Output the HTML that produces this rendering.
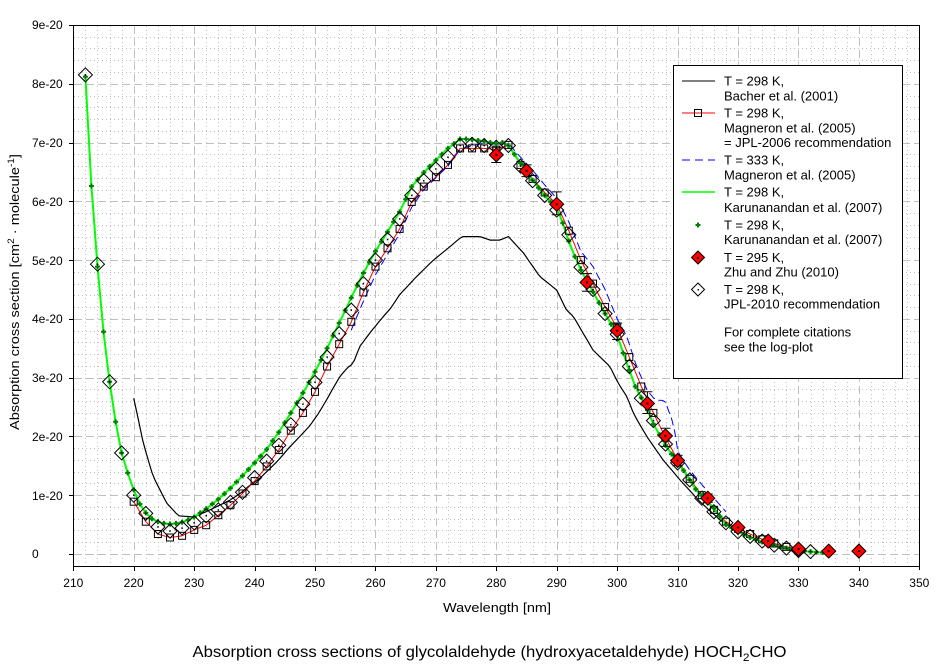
<!DOCTYPE html>
<html><head><meta charset="utf-8">
<style>
html,body{margin:0;padding:0;background:#fff;}
svg{display:block;font-family:"Liberation Sans",Arial,sans-serif;}
</style></head>
<body>
<svg id="plot" width="944" height="671" viewBox="0 0 944 671" xmlns="http://www.w3.org/2000/svg">
<rect x="0" y="0" width="944" height="671" fill="#fff"/>
<g id="grid"></g>
<g id="frame" fill="none" stroke="#000" stroke-width="1">
  <line x1="73.5" y1="25" x2="73.5" y2="566.5"/>
  <line x1="73" y1="566.5" x2="919.5" y2="566.5"/>
  <line x1="73" y1="25.5" x2="919.5" y2="25.5"/>
  <line x1="919.5" y1="25" x2="919.5" y2="570"/>
</g>
<g id="ticks" stroke="#000" stroke-width="1"></g>
<g id="data"></g>
<g id="ticklabels" font-size="12" fill="#000">
  <text x="32" y="29">9e-20</text>
  <text x="32" y="88">8e-20</text>
  <text x="32" y="147">7e-20</text>
  <text x="32" y="206">6e-20</text>
  <text x="32" y="265">5e-20</text>
  <text x="32" y="323">4e-20</text>
  <text x="32" y="382">3e-20</text>
  <text x="32" y="441">2e-20</text>
  <text x="32" y="500">1e-20</text>
  <text x="32" y="558">0</text>
  <g text-anchor="middle">
  <text x="73.3" y="587">210</text>
  <text x="133.7" y="587">220</text>
  <text x="194.2" y="587">230</text>
  <text x="254.6" y="587">240</text>
  <text x="315.0" y="587">250</text>
  <text x="375.5" y="587">260</text>
  <text x="435.9" y="587">270</text>
  <text x="496.3" y="587">280</text>
  <text x="556.7" y="587">290</text>
  <text x="617.2" y="587">300</text>
  <text x="677.6" y="587">310</text>
  <text x="738.0" y="587">320</text>
  <text x="798.5" y="587">330</text>
  <text x="858.9" y="587">340</text>
  <text x="919.3" y="587">350</text>
  </g>
</g>
<text x="497" y="612" font-size="13" text-anchor="middle" textLength="108" lengthAdjust="spacingAndGlyphs">Wavelength [nm]</text>
<text transform="translate(19,292) rotate(-90)" font-size="13" text-anchor="middle" textLength="276" lengthAdjust="spacingAndGlyphs">Absorption cross section [cm<tspan font-size="9" dy="-5">2</tspan><tspan dy="5"> · molecule</tspan><tspan font-size="9" dy="-5">-1</tspan><tspan dy="5">]</tspan></text>
<text x="489.5" y="657" font-size="15.5" text-anchor="middle" textLength="594" lengthAdjust="spacingAndGlyphs">Absorption cross sections of glycolaldehyde (hydroxyacetaldehyde) HOCH<tspan font-size="11" dy="4">2</tspan><tspan dy="-4">CHO</tspan></text>

<g id="legend">
  <rect x="673.5" y="65.5" width="229" height="313" fill="#fff" stroke="#000" stroke-width="1"/>
  <line x1="682" y1="81" x2="715" y2="81" stroke="#000" stroke-width="1"/>
  <line x1="682" y1="113" x2="715" y2="113" stroke="#f00" stroke-width="1"/>
  <rect x="694.5" y="109.5" width="7" height="7" fill="none" stroke="#000" stroke-width="1"/>
  <line x1="682" y1="160" x2="715" y2="160" stroke="#00f" stroke-width="1" stroke-dasharray="8,5"/>
  <line x1="682" y1="192" x2="715" y2="192" stroke="#0f0" stroke-width="1.5"/>
  <path d="M695.5 225h5M698 222.5v5" stroke="#008000" stroke-width="2"/>
  <path d="M698 251l6.5 6.5l-6.5 6.5l-6.5 -6.5z" fill="#f00" stroke="#000" stroke-width="1"/>
  <rect x="697" y="257" width="2" height="2" fill="#000"/>
  <path d="M698 283l6.5 6.5l-6.5 6.5l-6.5 -6.5z" fill="#fff" stroke="#000" stroke-width="1"/>
  <rect x="697.5" y="289" width="1.5" height="1.5" fill="#000"/>
  <g font-size="13" fill="#000">
    <text x="724" y="85.5">T = 298 K,</text>
    <text x="724" y="100.5">Bacher et al. (2001)</text>
    <text x="724" y="117.5">T = 298 K,</text>
    <text x="724" y="132.5">Magneron et al. (2005)</text>
    <text x="724" y="147">= JPL-2006 recommendation</text>
    <text x="724" y="164.5">T = 333 K,</text>
    <text x="724" y="179.5">Magneron et al. (2005)</text>
    <text x="724" y="196.5">T = 298 K,</text>
    <text x="724" y="212">Karunanandan et al. (2007)</text>
    <text x="724" y="229.5">T = 298 K,</text>
    <text x="724" y="244">Karunanandan et al. (2007)</text>
    <text x="724" y="262">T = 295 K,</text>
    <text x="724" y="276.5">Zhu and Zhu (2010)</text>
    <text x="724" y="294">T = 298 K,</text>
    <text x="724" y="308.5">JPL-2010 recommendation</text>
    <text x="724" y="336.5">For complete citations</text>
    <text x="724" y="351.5">see the log-plot</text>
  </g>
</g>
</svg>
<script>
(function(){
const NS='http://www.w3.org/2000/svg';
const X=l=>73.3+(l-210)*6.043;
const Y=v=>554-v*58.78;
function el(tag,attrs,parent){const e=document.createElementNS(NS,tag);for(const k in attrs)e.setAttribute(k,attrs[k]);parent.appendChild(e);return e;}
const grid=document.getElementById('grid');
const ticks=document.getElementById('ticks');
const data=document.getElementById('data');
// minor vertical grid (every 2 nm)
for(let l=212;l<350;l+=2){
  const x=Math.round(X(l))+0.5;
  if((l-210)%10===0) continue;
  el('line',{x1:x,y1:26,x2:x,y2:566,stroke:'#c0c0c0','stroke-width':1,'stroke-dasharray':'1,3'},grid);
}
// minor horizontal grid (every 0.2e-20)
for(let i=-0;i<45;i++){
  if(i%5===0) continue;
  const y=Math.round(Y(i*0.2))+0.5;
  el('line',{x1:74,y1:y,x2:919,y2:y,stroke:'#c0c0c0','stroke-width':1,'stroke-dasharray':'1,3'},grid);
}
// major vertical
for(let l=220;l<350;l+=10){
  const x=Math.round(X(l))+0.5;
  el('line',{x1:x,y1:26,x2:x,y2:566,stroke:'#c0c0c0','stroke-width':1,'stroke-dasharray':'8,4'},grid);
  el('line',{x1:x,y1:566,x2:x,y2:571},ticks);
}
el('line',{x1:73.5,y1:566,x2:73.5,y2:571},ticks);
// major horizontal
for(let v=0;v<9;v++){
  const y=Math.round(Y(v))+0.5;
  el('line',{x1:74,y1:y,x2:919,y2:y,stroke:'#c0c0c0','stroke-width':1,'stroke-dasharray':'8,4'},grid);
  el('line',{x1:69,y1:y,x2:73,y2:y},ticks);
}
el('line',{x1:69,y1:25.5,x2:73,y2:25.5},ticks);

function interp(p,l){
  if(l<=p[0][0])return p[0][1];
  for(let i=1;i<p.length;i++){
    if(l<=p[i][0]){const a=p[i-1],b=p[i];return a[1]+(b[1]-a[1])*(l-a[0])/(b[0]-a[0]);}
  }
  return p[p.length-1][1];
}
function poly(pts,attrs){
  const s=pts.map(q=>X(q[0]).toFixed(1)+','+Y(q[1]).toFixed(1)).join(' ');
  const a=Object.assign({points:s,fill:'none'},attrs);
  return el('polyline',a,data);
}
function sample(p,a,b,step){const r=[];for(let l=a;l<=b+1e-9;l+=step)r.push([l,interp(p,l)]);return r;}

const green=[[212,8.12],[213,6.26],[214,4.89],[215,3.78],[216,2.93],[217,2.25],[218,1.72],[219,1.38],[220,1.09],[221,0.85],[222,0.70],[223,0.60],[224,0.55],[225,0.52],[226,0.51],[227,0.52],[228,0.54],[229,0.58],[230,0.63],[231,0.70],[232,0.77],[234,0.93],[236,1.12],[238,1.33],[240,1.55],[242,1.78],[244,2.07],[246,2.40],[248,2.74],[250,3.10],[252,3.50],[254,3.93],[256,4.36],[258,4.78],[260,5.15],[262,5.48],[264,5.82],[266,6.25],[268,6.49],[270,6.70],[272,6.90],[274,7.06],[275,7.06],[276,7.05],[278,7.02],[280,6.98],[281,7.0],[282,6.95],[284,6.65],[286,6.36],[288,6.10],[290,5.88],[291,5.63],[292,5.32],[293,5.06],[294,4.83],[296,4.46],[298,4.09],[300,3.73],[301,3.42],[302,3.13],[303,2.85],[304,2.66],[305,2.45],[306,2.21],[308,1.85],[310,1.55],[311,1.42],[313,1.10],[316,0.78],[318,0.50],[320,0.38],[322,0.28],[325,0.17],[328,0.10],[330,0.06],[333,0.03],[335,0.02]];
const red=[[220,0.89],[222,0.55],[224,0.34],[226,0.28],[228,0.31],[230,0.41],[232,0.49],[234,0.66],[236,0.83],[238,1.03],[240,1.24],[242,1.49],[244,1.77],[246,2.10],[248,2.40],[250,2.76],[252,3.19],[254,3.57],[256,3.95],[258,4.45],[260,4.89],[262,5.20],[264,5.53],[266,5.99],[268,6.25],[270,6.41],[272,6.62],[274,6.90],[276,6.90],[278,6.90],[280,6.88],[282,6.96],[284,6.62],[286,6.38],[288,6.15],[290,5.95],[292,5.50],[294,5.00],[296,4.60],[298,4.20],[300,3.85],[302,3.35],[304,2.85],[306,2.40],[308,1.98],[310,1.60],[312,1.28],[314,1.00],[316,0.75],[318,0.55],[320,0.43],[322,0.34],[324,0.25],[326,0.18],[328,0.12],[330,0.08]];
const blue=[[256,3.81],[258,4.30],[260,4.75],[262,5.10],[264,5.45],[266,5.90],[268,6.20],[270,6.40],[272,6.60],[274,6.88],[276,6.95],[278,6.99],[280,6.97],[282,6.99],[283.4,6.82],[286,6.53],[288,6.28],[290,6.05],[291,5.85],[292,5.65],[294,5.15],[296,4.89],[298,4.50],[300,4.00],[301.6,3.70],[303.2,3.19],[305,2.78],[306.3,2.62],[307.9,2.61],[309.3,2.22],[310.1,1.71],[312,1.43],[314,1.18],[316,0.95],[318,0.72]];
const black=[[220,2.65],[221.6,1.88],[223.2,1.32],[225.5,0.86],[227.4,0.65],[229.9,0.63],[232,0.72],[234,0.82],[236,0.92],[237.6,1.03],[239,1.15],[240.9,1.29],[243.7,1.57],[245.9,1.83],[247.5,2.0],[249.2,2.19],[250.5,2.38],[251.9,2.62],[254.1,3.02],[255.5,3.18],[256.3,3.24],[257.4,3.53],[259,3.75],[260.8,3.98],[262.5,4.18],[264,4.41],[266.8,4.72],[269.6,5.00],[272,5.20],[274.3,5.40],[277.3,5.40],[279,5.34],[280.6,5.34],[282,5.40],[284.5,5.12],[287.2,4.72],[290,4.49],[291.6,4.15],[292.7,4.05],[294.4,3.75],[296,3.47],[298.8,3.19],[300.2,2.90],[301.6,2.68],[302.7,2.39],[304.9,2.00],[307.6,1.60],[310.4,1.26],[313.7,0.89],[317,0.58],[320,0.40],[323,0.25],[326,0.13],[329,0.06],[331,0.03]];
const jpl=[[212,8.15],[214,4.93],[216,2.93],[218,1.72],[220,1.00],[222,0.69],[224,0.46],[226,0.39],[228,0.44],[230,0.53],[232,0.65],[234,0.75],[236,0.88],[238,1.05],[240,1.30],[242,1.58],[244,1.85],[246,2.20],[248,2.55],[250,2.92],[252,3.35],[254,3.75],[256,4.15],[258,4.60],[260,5.00],[262,5.35],[264,5.70],[266,6.10],[268,6.35],[270,6.55],[272,6.75],[274,6.95],[276,6.97],[278,6.95],[280,6.92],[282,6.95],[284,6.60],[286,6.35],[288,6.10],[290,5.85],[292,5.43],[294,4.88],[296,4.50],[298,4.09],[300,3.74],[302,3.19],[304,2.65],[306,2.27],[308,1.87],[310,1.55],[312,1.26],[314,0.95],[316,0.72],[318,0.53],[320,0.38],[322,0.30],[324,0.22],[326,0.15],[328,0.10],[330,0.06],[332,0.04]];
const zhu=[[280,6.79,6.66,6.92],[285,6.52,6.42,6.62],[290,5.95,5.77,6.16],[295,4.62,4.47,4.77],[300,3.80,3.65,3.93],[305,2.56,2.39,2.76],[308,2.01,1.83,2.14],[310,1.59,1.50,1.68],[315,0.95,0.88,1.02],[320,0.45,0.42,0.48],[325,0.22,0.2,0.24],[330,0.085,0.08,0.09],[335,0.05,0.05,0.05],[340,0.05,0.05,0.05]];

poly(sample(black,220,331,0.5),{stroke:'#000','stroke-width':1.2});
poly(sample(red,220,330,0.5),{stroke:'#f00','stroke-width':1});
poly(sample(blue,256,318,0.5),{stroke:'#00f','stroke-width':1,'stroke-dasharray':'8,4'});
poly(sample(green,212,335,0.5),{stroke:'#0f0','stroke-width':2});
// squares
red.forEach(q=>{const x=X(q[0]),y=Y(q[1]);el('rect',{x:(x-3.5).toFixed(1),y:(y-3.5).toFixed(1),width:7,height:7,fill:'none',stroke:'#000','stroke-width':1},data);});
// green plus markers
let gp='';
for(let l=212;l<=335;l++){const x=X(l),y=Y(interp(green,l));gp+='M'+(x-2.5).toFixed(1)+' '+y.toFixed(1)+'h5M'+x.toFixed(1)+' '+(y-2.5).toFixed(1)+'v5';}
el('path',{d:gp,stroke:'#008000','stroke-width':2,fill:'none'},data);
// JPL-2010 diamonds
jpl.forEach(q=>{const x=X(q[0]),y=Y(q[1]);
  el('path',{d:'M'+x.toFixed(1)+' '+(y-7).toFixed(1)+'l7 7l-7 7l-7 -7z',fill:'none',stroke:'#000','stroke-width':1},data);
  el('rect',{x:(x-0.75).toFixed(1),y:(y-0.75).toFixed(1),width:1.5,height:1.5,fill:'#000'},data);
});
// Zhu error bars + diamonds
zhu.forEach(q=>{const x=X(q[0]);
  if(q[3]-q[2]>0.05){
    const y1=Y(q[2]),y2=Y(q[3]);
    el('path',{d:'M'+x.toFixed(1)+' '+y1.toFixed(1)+'V'+y2.toFixed(1)+'M'+(x-5).toFixed(1)+' '+y1.toFixed(1)+'h10M'+(x-5).toFixed(1)+' '+y2.toFixed(1)+'h10',stroke:'#000','stroke-width':1,fill:'none'},data);
  }
});
zhu.forEach(q=>{const x=X(q[0]),y=Y(q[1]);
  el('path',{d:'M'+x.toFixed(1)+' '+(y-7).toFixed(1)+'l7 7l-7 7l-7 -7z',fill:'#f00',stroke:'#000','stroke-width':1},data);
  el('rect',{x:(x-1).toFixed(1),y:(y-1).toFixed(1),width:2,height:2,fill:'#000'},data);
});
})();
</script>
</body></html>
